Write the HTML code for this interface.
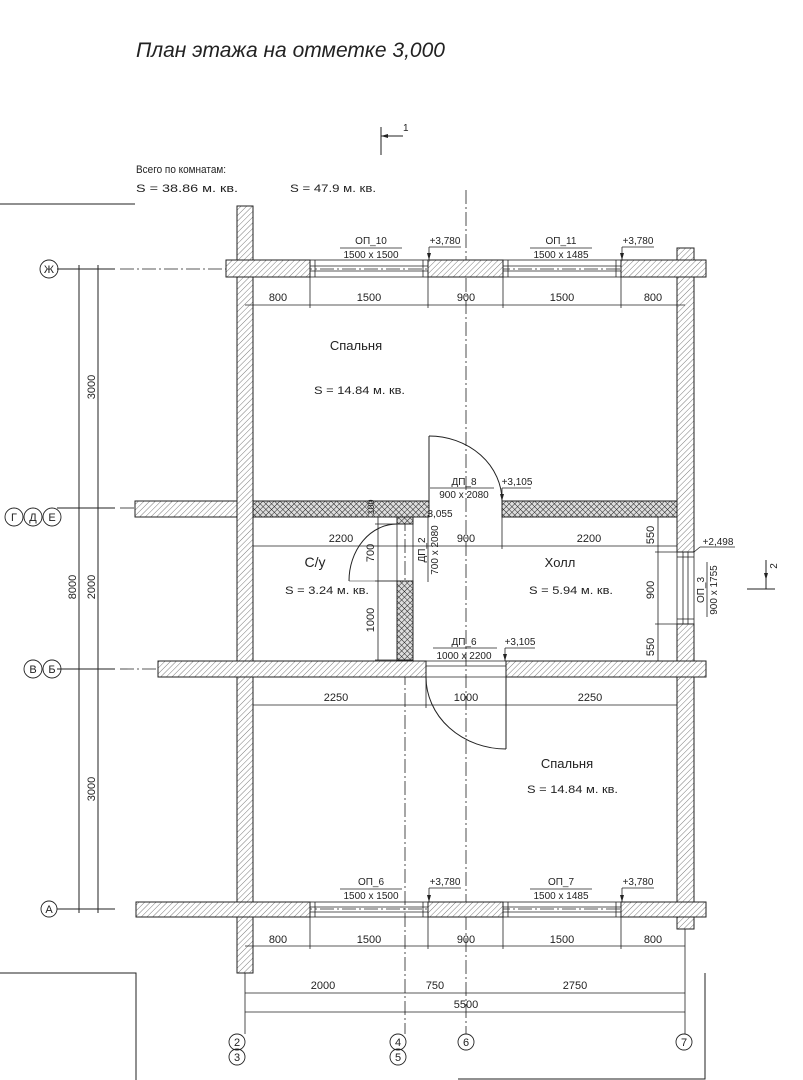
<!DOCTYPE html>
<html><head><meta charset="utf-8"><style>
html,body{margin:0;padding:0;background:#fff;}
svg{display:block;}
text{font-family:"Liberation Sans",sans-serif;fill:#222;}
.t{font-size:11px;}
.s{font-size:10px;}
</style></head><body>
<svg width="803" height="1080" viewBox="0 0 803 1080" xmlns="http://www.w3.org/2000/svg">
<defs>
<pattern id="h" width="4" height="4" patternUnits="userSpaceOnUse" patternTransform="rotate(45)">
<rect width="4" height="4" fill="#fff"/><line x1="0" y1="0" x2="0" y2="4" stroke="#444" stroke-width="0.7"/>
</pattern>
<pattern id="x" width="4" height="4" patternUnits="userSpaceOnUse" patternTransform="rotate(45)">
<rect width="4" height="4" fill="#ddd"/><line x1="0" y1="0" x2="0" y2="4" stroke="#222" stroke-width="1"/><line x1="0" y1="0" x2="4" y2="0" stroke="#222" stroke-width="1"/>
</pattern>
</defs>
<g stroke="#222" stroke-width="1" fill="none">
<line x1="0" y1="204" x2="135" y2="204"/>
<polyline points="0,973 136,973 136,1080"/>
<polyline points="705,973 705,1079 458,1079"/>
<g stroke-dasharray="14,3,2,3" stroke-width="0.8">
<line x1="466" y1="190" x2="466" y2="1034"/>
<line x1="405" y1="517" x2="405" y2="1034"/>
<line x1="120" y1="269" x2="230" y2="269"/>
<line x1="120" y1="508" x2="135" y2="508"/>
<line x1="120" y1="669" x2="158" y2="669"/>
<line x1="254" y1="269" x2="677" y2="269"/>
<line x1="254" y1="909" x2="677" y2="909"/>
</g>
<line x1="57" y1="269" x2="115" y2="269"/>
<line x1="57" y1="508" x2="115" y2="508"/>
<line x1="57" y1="669" x2="115" y2="669"/>
<line x1="57" y1="909" x2="115" y2="909"/>
<line x1="79" y1="265" x2="79" y2="913"/>
<line x1="98" y1="265" x2="98" y2="913"/>
<g fill="url(#h)">
<rect x="237" y="206" width="16" height="767"/>
<rect x="677" y="248" width="17" height="304"/>
<rect x="677" y="624" width="17" height="305"/>
<rect x="226" y="260" width="84" height="17"/>
<rect x="428" y="260" width="75" height="17"/>
<rect x="621" y="260" width="85" height="17"/>
<rect x="135" y="501" width="102" height="16"/>
<rect x="158" y="661" width="268" height="16"/>
<rect x="506" y="661" width="200" height="16"/>
<rect x="136" y="902" width="174" height="15"/>
<rect x="428" y="902" width="75" height="15"/>
<rect x="621" y="902" width="85" height="15"/>
</g>
<g fill="url(#x)">
<rect x="253" y="501" width="176" height="16"/>
<rect x="502" y="501" width="175" height="16"/>
<rect x="397" y="517" width="16" height="7"/>
<rect x="397" y="581" width="16" height="79"/>
</g>
<g stroke-width="0.8">
<rect x="310" y="260" width="118" height="17"/><line x1="310" y1="266" x2="428" y2="266"/><line x1="310" y1="271" x2="428" y2="271"/><line x1="315" y1="260" x2="315" y2="277"/><line x1="423" y1="260" x2="423" y2="277"/>
<rect x="503" y="260" width="118" height="17"/><line x1="503" y1="266" x2="621" y2="266"/><line x1="503" y1="271" x2="621" y2="271"/><line x1="508" y1="260" x2="508" y2="277"/><line x1="616" y1="260" x2="616" y2="277"/>
<rect x="310" y="902" width="118" height="15"/><line x1="310" y1="907" x2="428" y2="907"/><line x1="310" y1="912" x2="428" y2="912"/><line x1="315" y1="902" x2="315" y2="917"/><line x1="423" y1="902" x2="423" y2="917"/>
<rect x="503" y="902" width="118" height="15"/><line x1="503" y1="907" x2="621" y2="907"/><line x1="503" y1="912" x2="621" y2="912"/><line x1="508" y1="902" x2="508" y2="917"/><line x1="616" y1="902" x2="616" y2="917"/>
<rect x="677" y="552" width="17" height="72"/><line x1="683" y1="552" x2="683" y2="624"/><line x1="688" y1="552" x2="688" y2="624"/><line x1="677" y1="557" x2="694" y2="557"/><line x1="677" y1="619" x2="694" y2="619"/>
<line x1="426" y1="661" x2="506" y2="661"/><line x1="426" y1="666" x2="506" y2="666"/><line x1="426" y1="677" x2="506" y2="677"/>
<line x1="397" y1="524" x2="397" y2="581"/><line x1="413" y1="524" x2="413" y2="581"/>
</g>
<line x1="429" y1="501" x2="429" y2="436"/>
<path d="M429,436 A73,65 0 0 1 502,501"/>
<line x1="506" y1="677" x2="506" y2="749"/>
<path d="M426,677 A80,72 0 0 0 506,749"/>
<line x1="397" y1="581" x2="349" y2="581" stroke-width="0.6"/>
<path d="M349,581 A48,57 0 0 1 397,524"/>
<g stroke-width="0.8">
<line x1="245" y1="305" x2="685" y2="305"/>
<line x1="310" y1="277" x2="310" y2="308"/><line x1="428" y1="260" x2="428" y2="308"/><line x1="503" y1="277" x2="503" y2="308"/><line x1="621" y1="260" x2="621" y2="308"/>
<line x1="245" y1="946" x2="685" y2="946"/>
<line x1="310" y1="917" x2="310" y2="949"/><line x1="428" y1="902" x2="428" y2="949"/><line x1="503" y1="917" x2="503" y2="949"/><line x1="621" y1="902" x2="621" y2="949"/>
<line x1="245" y1="993" x2="685" y2="993"/>
<line x1="245" y1="1012" x2="685" y2="1012"/>
<line x1="245" y1="973" x2="245" y2="1034"/>
<line x1="685" y1="929" x2="685" y2="1034"/>
<line x1="253" y1="546" x2="677" y2="546"/>
<line x1="502" y1="488" x2="502" y2="549"/>
<line x1="253" y1="705" x2="677" y2="705"/>
<line x1="426" y1="677" x2="426" y2="708"/>
<line x1="378" y1="517" x2="378" y2="660"/>
<line x1="375" y1="524" x2="397" y2="524"/><line x1="375" y1="581" x2="397" y2="581"/><line x1="375" y1="660" x2="397" y2="660"/>
<line x1="658" y1="517" x2="658" y2="661"/>
<line x1="655" y1="552" x2="677" y2="552"/><line x1="655" y1="624" x2="677" y2="624"/>
<line x1="340" y1="248" x2="402" y2="248"/><line x1="530" y1="248" x2="592" y2="248"/>
<line x1="429" y1="247" x2="461" y2="247"/><line x1="622" y1="247" x2="654" y2="247"/>
<line x1="429" y1="247" x2="429" y2="260"/><line x1="622" y1="247" x2="622" y2="260"/>
<line x1="340" y1="889" x2="402" y2="889"/><line x1="530" y1="889" x2="592" y2="889"/>
<line x1="429" y1="888" x2="461" y2="888"/><line x1="622" y1="888" x2="654" y2="888"/>
<line x1="429" y1="888" x2="429" y2="902"/><line x1="622" y1="888" x2="622" y2="902"/>
<line x1="430" y1="488" x2="494" y2="488"/><line x1="502" y1="488" x2="531" y2="488"/>
<line x1="433" y1="648" x2="497" y2="648"/><line x1="505" y1="648" x2="535" y2="648"/><line x1="505" y1="648" x2="505" y2="661"/>
<line x1="428" y1="515" x2="428" y2="582"/>
<line x1="707" y1="562" x2="707" y2="617"/>
<line x1="700" y1="547" x2="735" y2="547"/><line x1="700" y1="547" x2="694" y2="552"/>
</g>
<line x1="381" y1="127" x2="381" y2="155"/><line x1="381" y1="136" x2="403" y2="136"/>
<line x1="766" y1="560" x2="766" y2="589"/><line x1="747" y1="589" x2="775" y2="589"/>
<g stroke-width="0.9">
<circle cx="49" cy="269" r="9"/>
<circle cx="14" cy="517" r="9"/><circle cx="33" cy="517" r="9"/><circle cx="52" cy="517" r="9"/>
<circle cx="33" cy="669" r="9"/><circle cx="52" cy="669" r="9"/>
<circle cx="49" cy="909" r="8"/>
<circle cx="237" cy="1042" r="8"/><circle cx="237" cy="1057" r="8"/>
<circle cx="398" cy="1042" r="8"/><circle cx="398" cy="1057" r="8"/>
<circle cx="466" cy="1042" r="8"/><circle cx="684" cy="1042" r="8"/>
</g>
</g>
<polygon points="381,136 388,134 388,138" fill="#222"/>
<polygon points="766,580 764,573 768,573" fill="#222"/>
<polygon points="429,260 427,253 431,253" fill="#222"/>
<polygon points="622,260 620,253 624,253" fill="#222"/>
<polygon points="429,902 427,895 431,895" fill="#222"/>
<polygon points="622,902 620,895 624,895" fill="#222"/>
<polygon points="502,501 500,494 504,494" fill="#222"/>
<polygon points="505,661 503,654 507,654" fill="#222"/>
<text x="136" y="57" font-size="21" font-style="italic" textLength="309" lengthAdjust="spacingAndGlyphs">План этажа на отметке 3,000</text>
<text x="403" y="131" class="s">1</text>
<text x="136" y="173" class="t" textLength="90" lengthAdjust="spacingAndGlyphs">Всего по комнатам:</text>
<text x="136" y="192" class="t" textLength="102" lengthAdjust="spacingAndGlyphs">S  =  38.86 м. кв.</text>
<text x="290" y="192" class="t" textLength="86" lengthAdjust="spacingAndGlyphs">S  = 47.9 м. кв.</text>
<g class="s" font-size="10">
<text x="371" y="244" text-anchor="middle">ОП_10</text><text x="371" y="258" text-anchor="middle">1500 x 1500</text>
<text x="561" y="244" text-anchor="middle">ОП_11</text><text x="561" y="258" text-anchor="middle">1500 x 1485</text>
<text x="445" y="244" text-anchor="middle">+3,780</text><text x="638" y="244" text-anchor="middle">+3,780</text>
<text x="371" y="885" text-anchor="middle">ОП_6</text><text x="371" y="899" text-anchor="middle">1500 x 1500</text>
<text x="561" y="885" text-anchor="middle">ОП_7</text><text x="561" y="899" text-anchor="middle">1500 x 1485</text>
<text x="445" y="885" text-anchor="middle">+3,780</text><text x="638" y="885" text-anchor="middle">+3,780</text>
<text x="464" y="485" text-anchor="middle">ДП_8</text><text x="464" y="498" text-anchor="middle">900 x 2080</text>
<text x="517" y="485" text-anchor="middle">+3,105</text>
<text x="464" y="645" text-anchor="middle">ДП_6</text><text x="464" y="659" text-anchor="middle">1000 x 2200</text>
<text x="520" y="645" text-anchor="middle">+3,105</text>
<text x="440" y="517" text-anchor="middle">3,055</text>
<text x="718" y="545" text-anchor="middle">+2,498</text>
</g>
<g font-size="11">
<text x="278" y="301" text-anchor="middle">800</text><text x="369" y="301" text-anchor="middle">1500</text><text x="466" y="301" text-anchor="middle">900</text><text x="562" y="301" text-anchor="middle">1500</text><text x="653" y="301" text-anchor="middle">800</text>
<text x="278" y="943" text-anchor="middle">800</text><text x="369" y="943" text-anchor="middle">1500</text><text x="466" y="943" text-anchor="middle">900</text><text x="562" y="943" text-anchor="middle">1500</text><text x="653" y="943" text-anchor="middle">800</text>
<text x="323" y="989" text-anchor="middle">2000</text><text x="435" y="989" text-anchor="middle">750</text><text x="575" y="989" text-anchor="middle">2750</text>
<text x="466" y="1008" text-anchor="middle">5500</text>
<text x="341" y="542" text-anchor="middle">2200</text><text x="466" y="542" text-anchor="middle">900</text><text x="589" y="542" text-anchor="middle">2200</text>
<text x="336" y="701" text-anchor="middle">2250</text><text x="466" y="701" text-anchor="middle">1000</text><text x="590" y="701" text-anchor="middle">2250</text>
<text transform="translate(95,387) rotate(-90)" text-anchor="middle">3000</text>
<text transform="translate(95,587) rotate(-90)" text-anchor="middle">2000</text>
<text transform="translate(76,587) rotate(-90)" text-anchor="middle">8000</text>
<text transform="translate(95,789) rotate(-90)" text-anchor="middle">3000</text>
<text transform="translate(374,553) rotate(-90)" text-anchor="middle">700</text>
<text transform="translate(374,620) rotate(-90)" text-anchor="middle">1000</text>
<text transform="translate(374,507) rotate(-90)" text-anchor="middle" font-size="9">100</text>
<text transform="translate(654,535) rotate(-90)" text-anchor="middle">550</text>
<text transform="translate(654,590) rotate(-90)" text-anchor="middle">900</text>
<text transform="translate(654,647) rotate(-90)" text-anchor="middle">550</text>
<text transform="translate(425,550) rotate(-90)" text-anchor="middle" font-size="10">ДП_2</text>
<text transform="translate(438,550) rotate(-90)" text-anchor="middle" font-size="10">700 x 2080</text>
<text transform="translate(704,590) rotate(-90)" text-anchor="middle" font-size="10">ОП_3</text>
<text transform="translate(717,590) rotate(-90)" text-anchor="middle" font-size="10">900 x 1755</text>
<text transform="translate(777,566) rotate(-90)" text-anchor="middle" font-size="10">2</text>
</g>
<g font-size="11" text-anchor="middle">
<text x="49" y="273">Ж</text>
<text x="14" y="521">Г</text><text x="33" y="521">Д</text><text x="52" y="521">Е</text>
<text x="33" y="673">В</text><text x="52" y="673">Б</text>
<text x="49" y="913">А</text>
<text x="237" y="1046">2</text><text x="237" y="1061">3</text>
<text x="398" y="1046">4</text><text x="398" y="1061">5</text>
<text x="466" y="1046">6</text><text x="684" y="1046">7</text>
</g>
<g font-size="13">
<text x="356" y="350" text-anchor="middle">Спальня</text>
<text x="567" y="768" text-anchor="middle">Спальня</text>
<text x="315" y="567" text-anchor="middle" font-size="14">С/у</text>
<text x="560" y="567" text-anchor="middle">Холл</text>
</g>
<g font-size="11">
<text x="314" y="394" textLength="91" lengthAdjust="spacingAndGlyphs">S   = 14.84 м. кв.</text>
<text x="527" y="793" textLength="91" lengthAdjust="spacingAndGlyphs">S   = 14.84 м. кв.</text>
<text x="285" y="594" textLength="84" lengthAdjust="spacingAndGlyphs">S   = 3.24 м. кв.</text>
<text x="529" y="594" textLength="84" lengthAdjust="spacingAndGlyphs">S   = 5.94 м. кв.</text>
</g>
</svg>
</body></html>
